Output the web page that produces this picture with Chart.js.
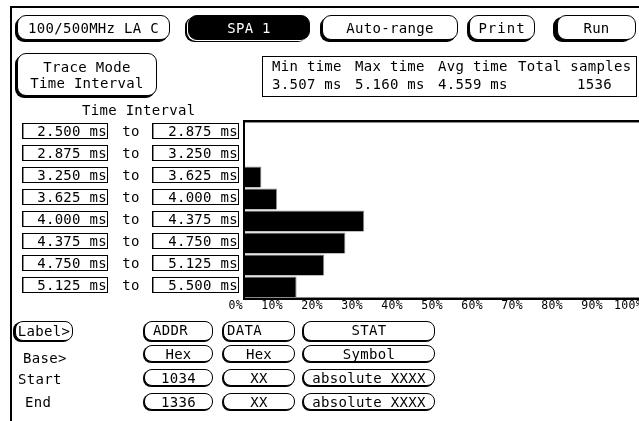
<!DOCTYPE html>
<html>
<head>
<meta charset="utf-8">
<script src="https://cdn.jsdelivr.net/npm/chart.js@4.4.1/dist/chart.umd.min.js"></script>
<style>
    html, body { margin: 0; padding: 0; background: #fff; width: 639px; height: 421px; overflow: hidden; }
    body { position: relative; font-family: "DejaVu Sans Mono", monospace; font-size: 14px; color: #000; letter-spacing: 0.3px; }
    #wrap { position: absolute; left: 0; top: 0; width: 660px; height: 421px; }
    .el { position: absolute; box-sizing: border-box; }
    .bar { position: absolute; background: #000; }
    .btn { border: 1px solid #000; border-radius: 9px; box-shadow: -2px 2px 0 #000; background: #fff;
           display: flex; align-items: center; justify-content: center; white-space: pre; line-height: 16px; text-align: center; }
    .sm { border-radius: 8px; box-shadow: -1px 1px 0 #000; }
    .txt { position: absolute; white-space: pre; line-height: 16px; }
</style>
</head>
<body>
<div id="wrap"><canvas id="histo" width="660" height="421"></canvas></div>

<!-- screen frame -->
<div class="bar" style="left:10px;top:6px;width:629px;height:2px"></div>
<div class="bar" style="left:10px;top:6px;width:2px;height:415px"></div>

<!-- top row of buttons -->
<div class="el btn" style="left:17px;top:15px;width:153px;height:25px">100/500MHz LA C</div>
<div class="el btn" style="left:188px;top:15px;width:122px;height:25px;background:#000;color:#fff;box-shadow:-1px 1px 0 #fff,-3px 2px 0 #000">SPA 1</div>
<div class="el btn" style="left:322px;top:15px;width:136px;height:25px">Auto-range</div>
<div class="el btn" style="left:469px;top:15px;width:66px;height:25px;letter-spacing:1px">Print</div>
<div class="el btn" style="left:557px;top:15px;width:79px;height:25px;box-shadow:-4px 2px 0 #000">Run</div>

<div class="el btn" style="left:17px;top:53px;width:140px;height:43px">Trace Mode
Time Interval</div>

<!-- statistics box -->
<div class="el" style="left:262px;top:56px;width:375px;height:41px;border:1px solid #000"></div>
<div class="txt" style="left:272px;top:58px">Min time</div>
<div class="txt" style="left:355px;top:58px">Max time</div>
<div class="txt" style="left:438px;top:58px">Avg time</div>
<div class="txt" style="left:518px;top:58px">Total samples</div>
<div class="txt" style="left:272px;top:76px">3.507 ms</div>
<div class="txt" style="left:355px;top:76px">5.160 ms</div>
<div class="txt" style="left:438px;top:76px">4.559 ms</div>
<div class="txt" style="left:577px;top:76px">1536</div>

<div class="txt" style="left:82px;top:102px">Time Interval</div>

<!-- label / base / start / end block -->
<div class="el btn sm" style="left:15px;top:321px;width:58px;height:20px;box-shadow:-2px 1px 0 #000">Label&gt;</div>
<div class="txt" style="left:23px;top:350px">Base&gt;</div>
<div class="txt" style="left:18px;top:371px">Start</div>
<div class="txt" style="left:25px;top:394px">End</div>

<div class="el btn sm" style="left:144px;top:321px;width:69px;height:20px;justify-content:flex-start;padding-left:8px;align-items:flex-start">ADDR</div>
<div class="el btn sm" style="left:223px;top:321px;width:72px;height:20px;justify-content:flex-start;padding-left:3px;align-items:flex-start">DATA</div>
<div class="el btn sm" style="left:303px;top:321px;width:132px;height:20px;align-items:flex-start">STAT</div>

<div class="el btn sm" style="left:144px;top:345px;width:69px;height:17px">Hex</div>
<div class="el btn sm" style="left:223px;top:345px;width:72px;height:17px">Hex</div>
<div class="el btn sm" style="left:303px;top:345px;width:132px;height:17px">Symbol</div>

<div class="el btn sm" style="left:144px;top:369px;width:69px;height:17px">1034</div>
<div class="el btn sm" style="left:223px;top:369px;width:72px;height:17px">XX</div>
<div class="el btn sm" style="left:303px;top:369px;width:132px;height:17px">absolute XXXX</div>

<div class="el btn sm" style="left:144px;top:393px;width:69px;height:17px">1336</div>
<div class="el btn sm" style="left:223px;top:393px;width:72px;height:17px">XX</div>
<div class="el btn sm" style="left:303px;top:393px;width:132px;height:17px">absolute XXXX</div>

<script>
// intervalles de temps (bornes basses / hautes)
const lowBounds = ['2.500 ms', '2.875 ms', '3.250 ms', '3.625 ms', '4.000 ms', '4.375 ms', '4.750 ms', '5.125 ms'];
const highBounds = ['2.875 ms', '3.250 ms', '3.625 ms', '4.000 ms', '4.375 ms', '4.750 ms', '5.125 ms', '5.500 ms'];

// pourcentage des échantillons par intervalle
const percentOfSamples = [0, 0, 4.1, 8.0, 29.8, 25.1, 19.8, 12.9];

// graduations de l'axe
const percentTicks = [0, 10, 20, 30, 40, 50, 60, 70, 80, 90, 100];

const MONO = '"DejaVu Sans Mono", monospace';

function drawBox(ctx, x, y, w, h) {
    ctx.strokeStyle = '#000';
    ctx.lineWidth = 1;
    ctx.strokeRect(x + 0.5, y + 0.5, w - 1, h - 1);
    ctx.strokeStyle = '#8a8a8a';
    ctx.beginPath();
    ctx.moveTo(x + 1.5, y + 1);
    ctx.lineTo(x + 1.5, y + h - 1);
    ctx.stroke();
}

// cadre du graphe + boîtes des intervalles, placées via l'échelle y
const intervalRows = {
    id: 'intervalRows',
    afterDraw(chart) {
        const ctx = chart.ctx;
        const ca = chart.chartArea;
        const yScale = chart.scales.y;
        ctx.save();

        ctx.fillStyle = '#000';
        ctx.fillRect(ca.left - 2, ca.top - 2, chart.width, 2);
        ctx.fillRect(ca.left - 2, ca.bottom, chart.width, 2);
        ctx.fillRect(ca.left - 2, ca.top - 2, 2, ca.bottom - ca.top + 4);
        ctx.fillStyle = '#8a8a8a';
        ctx.fillRect(ca.left, ca.top, chart.width, 1);
        ctx.fillRect(ca.left, ca.bottom - 1, chart.width, 1);

        ctx.font = '14px ' + MONO;
        ctx.letterSpacing = '0.3px';
        ctx.textBaseline = 'middle';
        ctx.fillStyle = '#000';

        lowBounds.forEach((lo, i) => {
            const cy = Math.round(yScale.getPixelForValue(i) - 2.5);
            drawBox(ctx, 22, cy - 8, 86, 16);
            drawBox(ctx, 152, cy - 8, 87, 16);
            ctx.fillStyle = '#000';
            ctx.textAlign = 'right';
            ctx.fillText(lo, 107, cy + 1);
            ctx.fillText(highBounds[i], 238, cy + 1);
            ctx.textAlign = 'center';
            ctx.fillText('to', 131, cy + 1);
        });

        ctx.restore();
    }
};

new Chart(document.getElementById('histo'), {
    type: 'bar',
    data: {
        labels: lowBounds.map((lo, i) => lo + ' to ' + highBounds[i]),
        datasets: [{
            data: percentOfSamples,
            backgroundColor: '#000',
            borderColor: '#8a8a8a',
            borderWidth: { top: 1, right: 1, bottom: 0, left: 0 },
            borderSkipped: false,
            barPercentage: 0.95,
            categoryPercentage: 1
        }]
    },
    options: {
        indexAxis: 'y',
        responsive: false,
        animation: false,
        events: [],
        layout: { padding: { left: 245, top: 122, right: 15, bottom: 103 } },
        plugins: {
            legend: { display: false },
            tooltip: { enabled: false }
        },
        scales: {
            x: {
                type: 'linear',
                min: 0,
                max: 100,
                grid: { display: false, drawTicks: false },
                border: { display: false },
                afterBuildTicks: s => { s.ticks = percentTicks.map(v => ({ value: v })); },
                afterFit: s => { s.height = 20; },
                ticks: {
                    autoSkip: false,
                    maxRotation: 0,
                    align: 'end',
                    labelOffset: -2,
                    padding: 1,
                    color: '#000',
                    font: { family: MONO, size: 11.5 },
                    callback: v => v + '%'
                }
            },
            y: {
                display: false
            }
        }
    },
    plugins: [intervalRows]
});
</script>
</body>
</html>
